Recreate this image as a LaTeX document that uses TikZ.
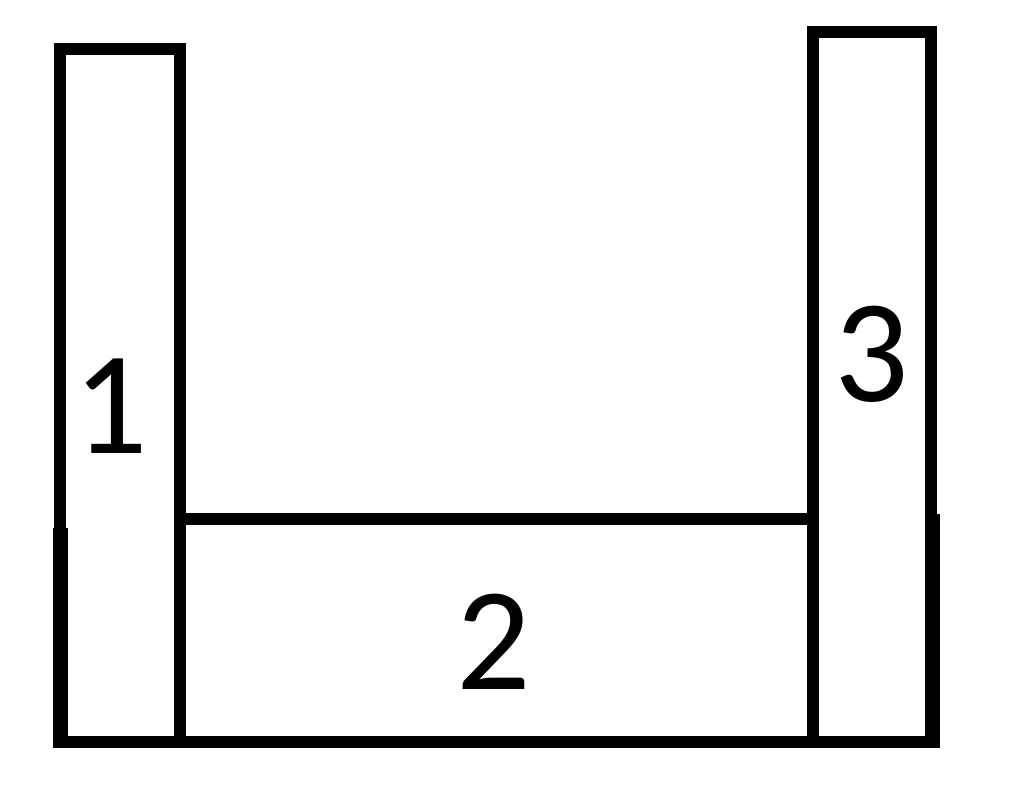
\documentclass[tikz,border=0pt]{standalone}
\usepackage{fontspec}
\newfontfamily\fa{Carlito}
\tikzset{
  wall/.style={draw=black, line width=12pt, line join=miter},
  lbl/.style={inner sep=0pt, font=\fontsize{147}{147}\fa}
}
\begin{document}
\begin{tikzpicture}[x=1pt,y=-1pt]
\useasboundingbox[fill=white] (0,0) rectangle (1024,799);
% left column (1)
\draw[wall] (59.5,530) -- (59.5,49) -- (180,49) -- (180,742);
\draw[wall, line width=15pt] (60.5,528) -- (60.5,742);
% right column (3)
\draw[wall] (813,742) -- (813,32) -- (931,32) -- (931,516);
\draw[wall, line width=15pt] (932.5,514) -- (932.5,742);
% middle top line (2)
\draw[wall] (174,519) -- (813,519);
% bottom line
\draw[wall, line cap=rect] (59,742) -- (934,742);
% labels
\node[lbl] (one) at (111,406) {1};
\node[lbl] (two) at (494,642) {2};
\node[lbl] (three) at (872,354) {3};
\end{tikzpicture}
\end{document}
